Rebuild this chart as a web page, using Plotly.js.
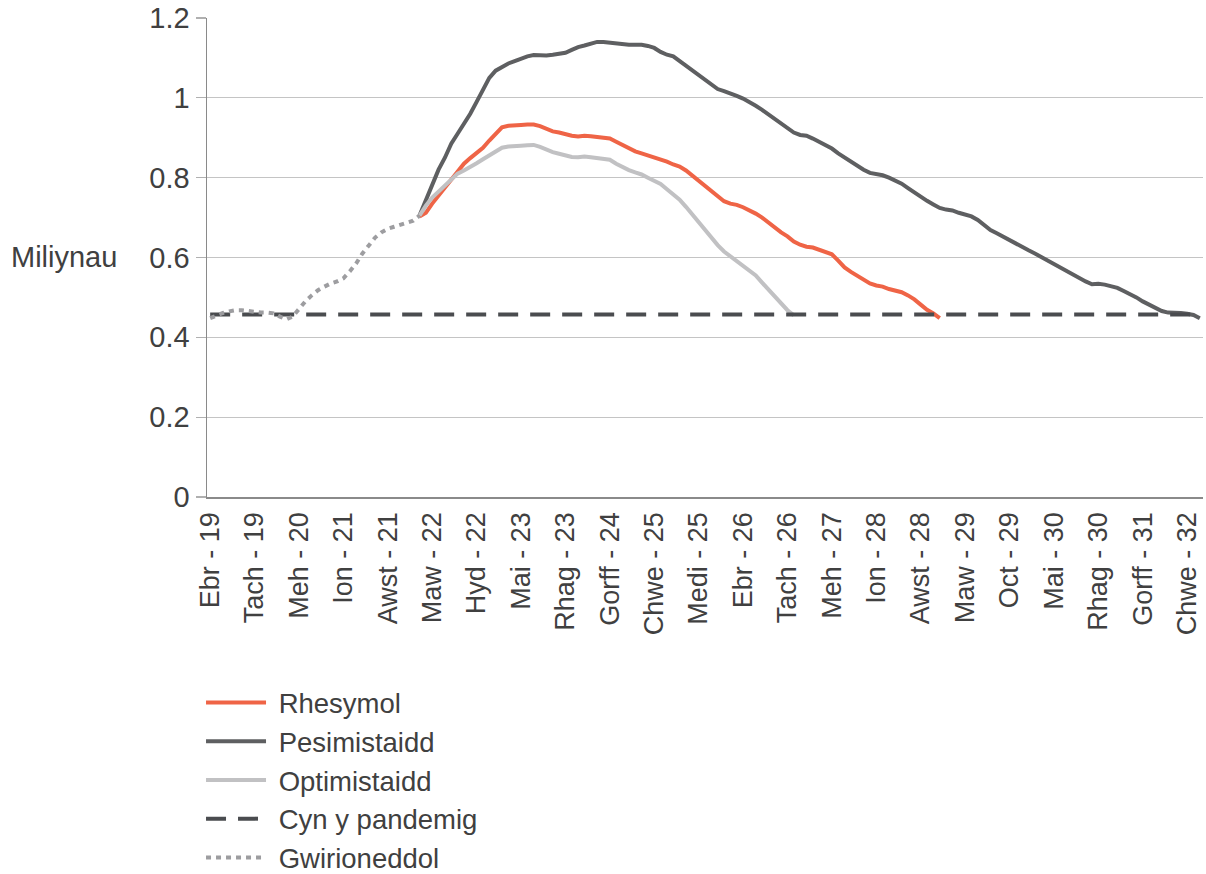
<!DOCTYPE html>
<html>
<head>
<meta charset="utf-8">
<script src="https://cdn.plot.ly/plotly-3.0.1.min.js"></script>
<style>
  html, body { margin: 0; padding: 0; background: #ffffff; }
  #chart { width: 1206px; height: 874px; }
</style>
</head>
<body>
<div id="chart"></div>
<script>
// Welsh month abbreviations (Jan..Dec) used to name the monthly categories
const monthNames = ["Ion", "Chwe", "Maw", "Ebr", "Mai", "Meh", "Gorff", "Awst", "Medi", "Hyd", "Tach", "Rhag"];
// Categories: monthly, Ebr 2019 .. Ebr 2032
const categories = [];
for (let y = 2019; y <= 2032; y++) {
  for (let m = 0; m < 12; m++) {
    if (y === 2019 && m < 3) continue;
    if (y === 2032 && m > 3) continue;
    categories.push(monthNames[m] + " - " + String(y).slice(2));
  }
}

// Tick labels shown on the axis (every 7th month)
const tickLabels = ["Ebr - 19", "Tach - 19", "Meh - 20", "Ion - 21", "Awst - 21", "Maw - 22", "Hyd - 22",
  "Mai - 23", "Rhag - 23", "Gorff - 24", "Chwe - 25", "Medi - 25", "Ebr - 26", "Tach - 26", "Meh - 27",
  "Ion - 28", "Awst - 28", "Maw - 29", "Oct - 29", "Mai - 30", "Rhag - 30", "Gorff - 31", "Chwe - 32"];
const tickStep = 7;

// Gwirioneddol (actual) – starts at Ebr 19
const actualStart = 0;
const actual = [0.448, 0.455, 0.461, 0.465, 0.468, 0.468, 0.466, 0.463, 0.462, 0.462, 0.460, 0.452,
  0.445, 0.452, 0.472, 0.490, 0.505, 0.518, 0.527, 0.535, 0.540, 0.548, 0.565, 0.585, 0.610, 0.632,
  0.650, 0.663, 0.672, 0.677, 0.682, 0.686, 0.692, 0.705];

// Scenarios – start at Ion 22
const scenarioStart = 33;
const rhesymol = [0.703, 0.712, 0.735, 0.755, 0.776, 0.797, 0.818, 0.835, 0.849, 0.862, 0.875, 0.893,
  0.910, 0.926, 0.930, 0.932, 0.932, 0.933, 0.933, 0.929, 0.922, 0.916, 0.913, 0.908, 0.905, 0.903,
  0.905, 0.904, 0.902, 0.900, 0.898, 0.890, 0.882, 0.873, 0.866, 0.861, 0.856, 0.851, 0.846, 0.840,
  0.833, 0.828, 0.818, 0.805, 0.790, 0.778, 0.767, 0.752, 0.741, 0.735, 0.732, 0.726, 0.719, 0.710,
  0.700, 0.687, 0.673, 0.663, 0.653, 0.640, 0.632, 0.627, 0.625, 0.619, 0.613, 0.608, 0.592, 0.575,
  0.564, 0.555, 0.545, 0.535, 0.530, 0.527, 0.521, 0.516, 0.513, 0.505, 0.495, 0.482, 0.469, 0.460,
  0.448];
const pesimistaidd = [0.705, 0.745, 0.785, 0.820, 0.850, 0.885, 0.910, 0.935, 0.960, 0.990, 1.020,
  1.050, 1.068, 1.078, 1.086, 1.092, 1.098, 1.104, 1.107, 1.106, 1.106, 1.108, 1.110, 1.113, 1.120,
  1.127, 1.131, 1.135, 1.140, 1.140, 1.138, 1.135, 1.134, 1.133, 1.133, 1.133, 1.130, 1.125, 1.115,
  1.108, 1.104, 1.092, 1.082, 1.068, 1.055, 1.045, 1.033, 1.022, 1.017, 1.012, 1.005, 0.998, 0.990,
  0.980, 0.970, 0.958, 0.948, 0.935, 0.924, 0.913, 0.907, 0.905, 0.898, 0.890, 0.882, 0.873, 0.861,
  0.850, 0.840, 0.830, 0.820, 0.812, 0.810, 0.806, 0.800, 0.793, 0.785, 0.774, 0.763, 0.752, 0.742,
  0.733, 0.724, 0.720, 0.718, 0.712, 0.707, 0.703, 0.694, 0.682, 0.669, 0.661, 0.652, 0.643, 0.635,
  0.627, 0.618, 0.610, 0.601, 0.592, 0.583, 0.574, 0.566, 0.558, 0.549, 0.540, 0.533, 0.534, 0.532,
  0.527, 0.524, 0.516, 0.509, 0.500, 0.490, 0.482, 0.474, 0.466, 0.462, 0.462, 0.461, 0.459, 0.456,
  0.448];
const optimistaidd = [0.705, 0.730, 0.750, 0.765, 0.782, 0.798, 0.810, 0.818, 0.826, 0.836, 0.846,
  0.856, 0.866, 0.875, 0.878, 0.880, 0.880, 0.881, 0.882, 0.877, 0.870, 0.864, 0.860, 0.855, 0.852,
  0.851, 0.853, 0.851, 0.849, 0.847, 0.845, 0.835, 0.826, 0.819, 0.813, 0.808, 0.800, 0.792, 0.784,
  0.771, 0.758, 0.745, 0.727, 0.707, 0.688, 0.667, 0.648, 0.631, 0.615, 0.603, 0.592, 0.578, 0.567,
  0.555, 0.537, 0.520, 0.501, 0.484, 0.468, 0.455];

// Cyn y pandemig (pre-pandemic level)
const prePandemic = 0.457;

const seriesNames = ["Rhesymol", "Pesimistaidd", "Optimistaidd", "Cyn y pandemig", "Gwirioneddol"];

function xs(start, arr) { return categories.slice(start, start + arr.length); }

const textColor = "#404040";
const fontFamily = "Liberation Sans, Arial, sans-serif";
const pad = "\u00a0";

const traces = [
  { x: xs(scenarioStart, rhesymol), y: rhesymol, name: pad + seriesNames[0], mode: "lines",
    line: { color: "#ef6446", width: 4 } },
  { x: xs(scenarioStart, pesimistaidd), y: pesimistaidd, name: pad + seriesNames[1], mode: "lines",
    line: { color: "#5e5f61", width: 4 } },
  { x: xs(scenarioStart, optimistaidd), y: optimistaidd, name: pad + seriesNames[2], mode: "lines",
    line: { color: "#c1c1c3", width: 4 } },
  { x: [categories[0], categories[categories.length - 1]], y: [prePandemic, prePandemic], name: pad + seriesNames[3],
    mode: "lines", line: { color: "#4a4c4f", width: 4, dash: "20px,12px" } },
  { x: xs(actualStart, actual), y: actual, name: pad + seriesNames[4], mode: "lines",
    line: { color: "#9d9da0", width: 4, dash: "5px,5px" } }
];

const tickVals = tickLabels.map((_, i) => categories[i * tickStep]);

const layout = {
  width: 1206, height: 874,
  margin: { l: 207, r: 3, t: 18, b: 377, autoexpand: false },
  paper_bgcolor: "#ffffff", plot_bgcolor: "#ffffff",
  font: { family: fontFamily, size: 28, color: textColor },
  showlegend: true,
  xaxis: {
    type: "category", automargin: false,
    categoryorder: "array", categoryarray: categories,
    range: [-0.5, categories.length - 0.5],
    tickvals: tickVals, ticktext: tickLabels,
    tickangle: -90,
    showgrid: false, zeroline: false,
    showline: true, linecolor: "#8a8a8a", linewidth: 1.5,
    ticks: "", ticklabelstandoff: 3,
    tickfont: { family: fontFamily, size: 27, color: textColor }
  },
  yaxis: {
    range: [0, 1.2], dtick: 0.2, tick0: 0, automargin: false,
    showgrid: true, gridcolor: "#c4c4c4", gridwidth: 1.3,
    zeroline: false,
    showline: true, linecolor: "#8a8a8a", linewidth: 1.5,
    ticks: "outside", ticklen: 10, tickcolor: "#b0b0b0", tickwidth: 1.3,
    tickformat: "~g",
    tickfont: { family: fontFamily, size: 29, color: textColor }
  },
  legend: {
    orientation: "v", x: -0.006, xanchor: "left", y: -0.378, yanchor: "top",
    itemwidth: 60, tracegroupgap: 0,
    font: { family: fontFamily, size: 27.5, color: textColor },
    bgcolor: "rgba(0,0,0,0)"
  },
  annotations: [{
    text: "Miliynau", xref: "paper", yref: "paper", x: -0.1985, y: 0.501,
    xanchor: "left", yanchor: "middle", showarrow: false,
    font: { family: fontFamily, size: 29, color: textColor }
  }]
};

Plotly.newPlot("chart", traces, layout, { displayModeBar: false, staticPlot: true });
</script>
</body>
</html>
